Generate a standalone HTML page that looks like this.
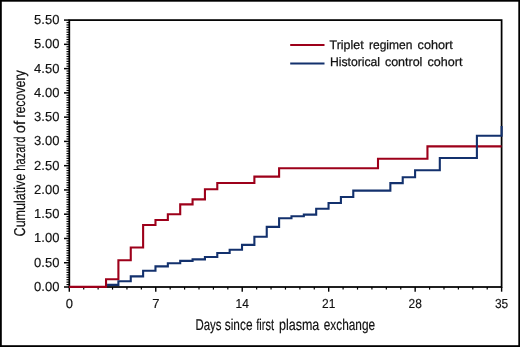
<!DOCTYPE html>
<html><head><meta charset="utf-8"><title>Cumulative hazard of recovery</title>
<style>
html,body{margin:0;padding:0;background:#fff;}
body{width:520px;height:347px;overflow:hidden;}
svg{display:block;}
text{font-family:"Liberation Sans",sans-serif;fill:#111;text-rendering:geometricPrecision;}
</style></head><body>
<svg width="520" height="347" viewBox="0 0 520 347">
<rect x="0" y="0" width="520" height="347" fill="#fff"/>
<rect x="0.9" y="0.8" width="518.3" height="345.3" fill="none" stroke="#000" stroke-width="1.8"/>
<g stroke="#000" fill="none">
<rect x="69.3" y="20.1" width="432.3" height="266.9" stroke-width="1.75"/>
<line x1="64.0" x2="69.3" y1="287.0" y2="287.0" stroke-width="1.5"/><line x1="66.5" x2="69.3" y1="284.57" y2="284.57" stroke-width="1.2"/><line x1="66.5" x2="69.3" y1="282.15" y2="282.15" stroke-width="1.2"/><line x1="66.5" x2="69.3" y1="279.72" y2="279.72" stroke-width="1.2"/><line x1="66.5" x2="69.3" y1="277.29" y2="277.29" stroke-width="1.2"/><line x1="66.5" x2="69.3" y1="274.87" y2="274.87" stroke-width="1.2"/><line x1="66.5" x2="69.3" y1="272.44" y2="272.44" stroke-width="1.2"/><line x1="66.5" x2="69.3" y1="270.01" y2="270.01" stroke-width="1.2"/><line x1="66.5" x2="69.3" y1="267.59" y2="267.59" stroke-width="1.2"/><line x1="66.5" x2="69.3" y1="265.16" y2="265.16" stroke-width="1.2"/><line x1="64.0" x2="69.3" y1="262.74" y2="262.74" stroke-width="1.5"/><line x1="66.5" x2="69.3" y1="260.31" y2="260.31" stroke-width="1.2"/><line x1="66.5" x2="69.3" y1="257.88" y2="257.88" stroke-width="1.2"/><line x1="66.5" x2="69.3" y1="255.46" y2="255.46" stroke-width="1.2"/><line x1="66.5" x2="69.3" y1="253.03" y2="253.03" stroke-width="1.2"/><line x1="66.5" x2="69.3" y1="250.6" y2="250.6" stroke-width="1.2"/><line x1="66.5" x2="69.3" y1="248.18" y2="248.18" stroke-width="1.2"/><line x1="66.5" x2="69.3" y1="245.75" y2="245.75" stroke-width="1.2"/><line x1="66.5" x2="69.3" y1="243.32" y2="243.32" stroke-width="1.2"/><line x1="66.5" x2="69.3" y1="240.9" y2="240.9" stroke-width="1.2"/><line x1="64.0" x2="69.3" y1="238.47" y2="238.47" stroke-width="1.5"/><line x1="66.5" x2="69.3" y1="236.04" y2="236.04" stroke-width="1.2"/><line x1="66.5" x2="69.3" y1="233.62" y2="233.62" stroke-width="1.2"/><line x1="66.5" x2="69.3" y1="231.19" y2="231.19" stroke-width="1.2"/><line x1="66.5" x2="69.3" y1="228.76" y2="228.76" stroke-width="1.2"/><line x1="66.5" x2="69.3" y1="226.34" y2="226.34" stroke-width="1.2"/><line x1="66.5" x2="69.3" y1="223.91" y2="223.91" stroke-width="1.2"/><line x1="66.5" x2="69.3" y1="221.48" y2="221.48" stroke-width="1.2"/><line x1="66.5" x2="69.3" y1="219.06" y2="219.06" stroke-width="1.2"/><line x1="66.5" x2="69.3" y1="216.63" y2="216.63" stroke-width="1.2"/><line x1="64.0" x2="69.3" y1="214.2" y2="214.2" stroke-width="1.5"/><line x1="66.5" x2="69.3" y1="211.78" y2="211.78" stroke-width="1.2"/><line x1="66.5" x2="69.3" y1="209.35" y2="209.35" stroke-width="1.2"/><line x1="66.5" x2="69.3" y1="206.93" y2="206.93" stroke-width="1.2"/><line x1="66.5" x2="69.3" y1="204.5" y2="204.5" stroke-width="1.2"/><line x1="66.5" x2="69.3" y1="202.07" y2="202.07" stroke-width="1.2"/><line x1="66.5" x2="69.3" y1="199.65" y2="199.65" stroke-width="1.2"/><line x1="66.5" x2="69.3" y1="197.22" y2="197.22" stroke-width="1.2"/><line x1="66.5" x2="69.3" y1="194.79" y2="194.79" stroke-width="1.2"/><line x1="66.5" x2="69.3" y1="192.37" y2="192.37" stroke-width="1.2"/><line x1="64.0" x2="69.3" y1="189.94" y2="189.94" stroke-width="1.5"/><line x1="66.5" x2="69.3" y1="187.51" y2="187.51" stroke-width="1.2"/><line x1="66.5" x2="69.3" y1="185.09" y2="185.09" stroke-width="1.2"/><line x1="66.5" x2="69.3" y1="182.66" y2="182.66" stroke-width="1.2"/><line x1="66.5" x2="69.3" y1="180.23" y2="180.23" stroke-width="1.2"/><line x1="66.5" x2="69.3" y1="177.81" y2="177.81" stroke-width="1.2"/><line x1="66.5" x2="69.3" y1="175.38" y2="175.38" stroke-width="1.2"/><line x1="66.5" x2="69.3" y1="172.95" y2="172.95" stroke-width="1.2"/><line x1="66.5" x2="69.3" y1="170.53" y2="170.53" stroke-width="1.2"/><line x1="66.5" x2="69.3" y1="168.1" y2="168.1" stroke-width="1.2"/><line x1="64.0" x2="69.3" y1="165.68" y2="165.68" stroke-width="1.5"/><line x1="66.5" x2="69.3" y1="163.25" y2="163.25" stroke-width="1.2"/><line x1="66.5" x2="69.3" y1="160.82" y2="160.82" stroke-width="1.2"/><line x1="66.5" x2="69.3" y1="158.4" y2="158.4" stroke-width="1.2"/><line x1="66.5" x2="69.3" y1="155.97" y2="155.97" stroke-width="1.2"/><line x1="66.5" x2="69.3" y1="153.54" y2="153.54" stroke-width="1.2"/><line x1="66.5" x2="69.3" y1="151.12" y2="151.12" stroke-width="1.2"/><line x1="66.5" x2="69.3" y1="148.69" y2="148.69" stroke-width="1.2"/><line x1="66.5" x2="69.3" y1="146.26" y2="146.26" stroke-width="1.2"/><line x1="66.5" x2="69.3" y1="143.84" y2="143.84" stroke-width="1.2"/><line x1="64.0" x2="69.3" y1="141.41" y2="141.41" stroke-width="1.5"/><line x1="66.5" x2="69.3" y1="138.98" y2="138.98" stroke-width="1.2"/><line x1="66.5" x2="69.3" y1="136.56" y2="136.56" stroke-width="1.2"/><line x1="66.5" x2="69.3" y1="134.13" y2="134.13" stroke-width="1.2"/><line x1="66.5" x2="69.3" y1="131.7" y2="131.7" stroke-width="1.2"/><line x1="66.5" x2="69.3" y1="129.28" y2="129.28" stroke-width="1.2"/><line x1="66.5" x2="69.3" y1="126.85" y2="126.85" stroke-width="1.2"/><line x1="66.5" x2="69.3" y1="124.42" y2="124.42" stroke-width="1.2"/><line x1="66.5" x2="69.3" y1="122.0" y2="122.0" stroke-width="1.2"/><line x1="66.5" x2="69.3" y1="119.57" y2="119.57" stroke-width="1.2"/><line x1="64.0" x2="69.3" y1="117.14" y2="117.14" stroke-width="1.5"/><line x1="66.5" x2="69.3" y1="114.72" y2="114.72" stroke-width="1.2"/><line x1="66.5" x2="69.3" y1="112.29" y2="112.29" stroke-width="1.2"/><line x1="66.5" x2="69.3" y1="109.87" y2="109.87" stroke-width="1.2"/><line x1="66.5" x2="69.3" y1="107.44" y2="107.44" stroke-width="1.2"/><line x1="66.5" x2="69.3" y1="105.01" y2="105.01" stroke-width="1.2"/><line x1="66.5" x2="69.3" y1="102.59" y2="102.59" stroke-width="1.2"/><line x1="66.5" x2="69.3" y1="100.16" y2="100.16" stroke-width="1.2"/><line x1="66.5" x2="69.3" y1="97.73" y2="97.73" stroke-width="1.2"/><line x1="66.5" x2="69.3" y1="95.31" y2="95.31" stroke-width="1.2"/><line x1="64.0" x2="69.3" y1="92.88" y2="92.88" stroke-width="1.5"/><line x1="66.5" x2="69.3" y1="90.45" y2="90.45" stroke-width="1.2"/><line x1="66.5" x2="69.3" y1="88.03" y2="88.03" stroke-width="1.2"/><line x1="66.5" x2="69.3" y1="85.6" y2="85.6" stroke-width="1.2"/><line x1="66.5" x2="69.3" y1="83.17" y2="83.17" stroke-width="1.2"/><line x1="66.5" x2="69.3" y1="80.75" y2="80.75" stroke-width="1.2"/><line x1="66.5" x2="69.3" y1="78.32" y2="78.32" stroke-width="1.2"/><line x1="66.5" x2="69.3" y1="75.89" y2="75.89" stroke-width="1.2"/><line x1="66.5" x2="69.3" y1="73.47" y2="73.47" stroke-width="1.2"/><line x1="66.5" x2="69.3" y1="71.04" y2="71.04" stroke-width="1.2"/><line x1="64.0" x2="69.3" y1="68.62" y2="68.62" stroke-width="1.5"/><line x1="66.5" x2="69.3" y1="66.19" y2="66.19" stroke-width="1.2"/><line x1="66.5" x2="69.3" y1="63.76" y2="63.76" stroke-width="1.2"/><line x1="66.5" x2="69.3" y1="61.34" y2="61.34" stroke-width="1.2"/><line x1="66.5" x2="69.3" y1="58.91" y2="58.91" stroke-width="1.2"/><line x1="66.5" x2="69.3" y1="56.48" y2="56.48" stroke-width="1.2"/><line x1="66.5" x2="69.3" y1="54.06" y2="54.06" stroke-width="1.2"/><line x1="66.5" x2="69.3" y1="51.63" y2="51.63" stroke-width="1.2"/><line x1="66.5" x2="69.3" y1="49.2" y2="49.2" stroke-width="1.2"/><line x1="66.5" x2="69.3" y1="46.78" y2="46.78" stroke-width="1.2"/><line x1="64.0" x2="69.3" y1="44.35" y2="44.35" stroke-width="1.5"/><line x1="66.5" x2="69.3" y1="41.92" y2="41.92" stroke-width="1.2"/><line x1="66.5" x2="69.3" y1="39.5" y2="39.5" stroke-width="1.2"/><line x1="66.5" x2="69.3" y1="37.07" y2="37.07" stroke-width="1.2"/><line x1="66.5" x2="69.3" y1="34.64" y2="34.64" stroke-width="1.2"/><line x1="66.5" x2="69.3" y1="32.22" y2="32.22" stroke-width="1.2"/><line x1="66.5" x2="69.3" y1="29.79" y2="29.79" stroke-width="1.2"/><line x1="66.5" x2="69.3" y1="27.36" y2="27.36" stroke-width="1.2"/><line x1="66.5" x2="69.3" y1="24.94" y2="24.94" stroke-width="1.2"/><line x1="66.5" x2="69.3" y1="22.51" y2="22.51" stroke-width="1.2"/><line x1="64.0" x2="69.3" y1="20.08" y2="20.08" stroke-width="1.5"/>
<line x1="69.3" x2="69.3" y1="287" y2="291.7" stroke-width="1.4"/><line x1="83.71" x2="83.71" y1="287" y2="289.6" stroke-width="1.2"/><line x1="98.12" x2="98.12" y1="287" y2="289.6" stroke-width="1.2"/><line x1="112.53" x2="112.53" y1="287" y2="289.6" stroke-width="1.2"/><line x1="126.94" x2="126.94" y1="287" y2="289.6" stroke-width="1.2"/><line x1="141.35" x2="141.35" y1="287" y2="289.6" stroke-width="1.2"/><line x1="155.76" x2="155.76" y1="287" y2="291.7" stroke-width="1.4"/><line x1="170.17" x2="170.17" y1="287" y2="289.6" stroke-width="1.2"/><line x1="184.59" x2="184.59" y1="287" y2="289.6" stroke-width="1.2"/><line x1="199.0" x2="199.0" y1="287" y2="289.6" stroke-width="1.2"/><line x1="213.41" x2="213.41" y1="287" y2="289.6" stroke-width="1.2"/><line x1="227.82" x2="227.82" y1="287" y2="289.6" stroke-width="1.2"/><line x1="242.23" x2="242.23" y1="287" y2="291.7" stroke-width="1.4"/><line x1="256.64" x2="256.64" y1="287" y2="289.6" stroke-width="1.2"/><line x1="271.05" x2="271.05" y1="287" y2="289.6" stroke-width="1.2"/><line x1="285.46" x2="285.46" y1="287" y2="289.6" stroke-width="1.2"/><line x1="299.87" x2="299.87" y1="287" y2="289.6" stroke-width="1.2"/><line x1="314.28" x2="314.28" y1="287" y2="289.6" stroke-width="1.2"/><line x1="328.69" x2="328.69" y1="287" y2="291.7" stroke-width="1.4"/><line x1="343.1" x2="343.1" y1="287" y2="289.6" stroke-width="1.2"/><line x1="357.51" x2="357.51" y1="287" y2="289.6" stroke-width="1.2"/><line x1="371.92" x2="371.92" y1="287" y2="289.6" stroke-width="1.2"/><line x1="386.33" x2="386.33" y1="287" y2="289.6" stroke-width="1.2"/><line x1="400.75" x2="400.75" y1="287" y2="289.6" stroke-width="1.2"/><line x1="415.16" x2="415.16" y1="287" y2="291.7" stroke-width="1.4"/><line x1="429.57" x2="429.57" y1="287" y2="289.6" stroke-width="1.2"/><line x1="443.98" x2="443.98" y1="287" y2="289.6" stroke-width="1.2"/><line x1="458.39" x2="458.39" y1="287" y2="289.6" stroke-width="1.2"/><line x1="472.8" x2="472.8" y1="287" y2="289.6" stroke-width="1.2"/><line x1="487.21" x2="487.21" y1="287" y2="289.6" stroke-width="1.2"/><line x1="501.62" x2="501.62" y1="287" y2="291.7" stroke-width="1.4"/>
</g>
<g font-size="13" stroke="#111" stroke-width="0.15"><text x="59.4" y="291.0" text-anchor="end">0.00</text><text x="59.4" y="266.74" text-anchor="end">0.50</text><text x="59.4" y="242.47" text-anchor="end">1.00</text><text x="59.4" y="218.2" text-anchor="end">1.50</text><text x="59.4" y="193.94" text-anchor="end">2.00</text><text x="59.4" y="169.68" text-anchor="end">2.50</text><text x="59.4" y="145.41" text-anchor="end">3.00</text><text x="59.4" y="121.14" text-anchor="end">3.50</text><text x="59.4" y="96.88" text-anchor="end">4.00</text><text x="59.4" y="72.62" text-anchor="end">4.50</text><text x="59.4" y="48.35" text-anchor="end">5.00</text><text x="59.4" y="24.08" text-anchor="end">5.50</text><text x="65.7" y="307.9">0</text><text x="152.16" y="307.9">7</text><text x="235.58" y="307.9" textLength="13.3" lengthAdjust="spacingAndGlyphs">14</text><text x="322.04" y="307.9" textLength="13.3" lengthAdjust="spacingAndGlyphs">21</text><text x="408.51" y="307.9" textLength="13.3" lengthAdjust="spacingAndGlyphs">28</text><text x="494.97" y="307.9" textLength="13.3" lengthAdjust="spacingAndGlyphs">35</text></g>
<path d="M68.95,286.9H106.04V279.3H118.4V260.3H130.76V247.5H143.12V225.0H155.48V220.0H167.85V214.3H180.21V204.4H192.57V199.4H204.93V189.2H217.29V183.0H254.38V176.6H279.1V168.2H378.0V158.7H427.45V146.4H501.62" fill="none" stroke="#9d001a" stroke-width="2.1" stroke-linejoin="miter"/>
<path d="M107.04,284.9H118.4V281.2H130.76V276.4H143.12V270.7H155.48V266.4H167.85V263.2H180.21V260.9H192.57V259.4H204.93V257.0H217.29V253.0H229.66V249.8H242.02V244.9H254.38V236.7H266.74V226.9H279.1V218.2H291.47V216.3H303.83V214.6H316.19V208.8H328.55V203.0H340.91V197.0H353.28V190.6H390.36V183.1H402.72V177.3H415.09V170.2H439.81V158.0H476.9V135.7H501.62V126.0" fill="none" stroke="#13316d" stroke-width="2.1" stroke-linejoin="miter"/>
<line x1="290.2" x2="324.5" y1="45" y2="45" stroke="#9d001a" stroke-width="2"/>
<line x1="290.2" x2="324.5" y1="63.4" y2="63.4" stroke="#13316d" stroke-width="2"/>
<g font-size="12.4" stroke="#111" stroke-width="0.25">
<text x="329.6" y="48.7" textLength="34.0" lengthAdjust="spacingAndGlyphs">Triplet</text>
<text x="369.0" y="48.7" textLength="43.4" lengthAdjust="spacingAndGlyphs">regimen</text>
<text x="417.6" y="48.7" textLength="35.1" lengthAdjust="spacingAndGlyphs">cohort</text>
<text x="329.9" y="66.4" textLength="50.2" lengthAdjust="spacingAndGlyphs">Historical</text>
<text x="384.9" y="66.4" textLength="37.5" lengthAdjust="spacingAndGlyphs">control</text>
<text x="427.5" y="66.4" textLength="34.9" lengthAdjust="spacingAndGlyphs">cohort</text>
</g>
<g font-size="15.7" stroke="#111" stroke-width="0.18">
<text x="195.4" y="329.9" textLength="26.0" lengthAdjust="spacingAndGlyphs">Days</text>
<text x="224.8" y="329.9" textLength="27.7" lengthAdjust="spacingAndGlyphs">since</text>
<text x="256.2" y="329.9" textLength="17.8" lengthAdjust="spacingAndGlyphs">first</text>
<text x="279.0" y="329.9" textLength="40.3" lengthAdjust="spacingAndGlyphs">plasma</text>
<text x="323.7" y="329.9" textLength="51.4" lengthAdjust="spacingAndGlyphs">exchange</text>
<text transform="translate(24.6,236.4) rotate(-90)" textLength="62.7" lengthAdjust="spacingAndGlyphs">Cumulative</text>
<text transform="translate(24.6,170.8) rotate(-90)" textLength="34.2" lengthAdjust="spacingAndGlyphs">hazard</text>
<text transform="translate(24.6,133.3) rotate(-90)" textLength="12.6" lengthAdjust="spacingAndGlyphs">of</text>
<text transform="translate(24.6,117.6) rotate(-90)" textLength="47.3" lengthAdjust="spacingAndGlyphs">recovery</text>
</g>
</svg>
</body></html>
